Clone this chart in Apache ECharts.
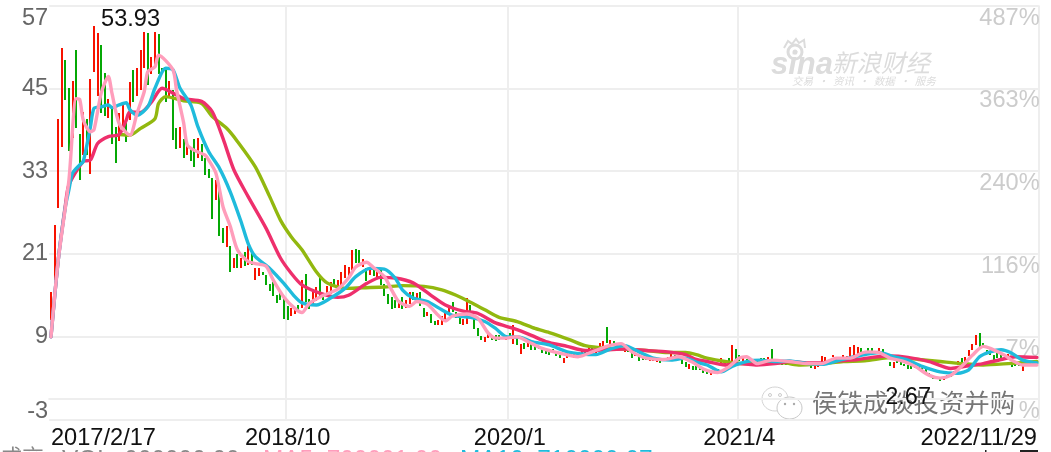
<!DOCTYPE html>
<html><head><meta charset="utf-8">
<style>html,body{margin:0;padding:0;background:#fff;overflow:hidden}#c{width:1051px;height:452px}</style>
<script src="https://cdn.jsdelivr.net/npm/echarts@6/dist/echarts.min.js"></script>
</head><body><div id="c"></div>
<script>
const opens=[11.4,17.2,27.6,36.5,49.1,45,37.7,50.5,38.4,35.3,40.5,32.6,47.3,43.9,51.3,47.2,40.8,42.2,39.4,37.3,
39.4,40,40.4,47.7,44,44.8,47.9,53,47.1,48.1,52.9,48,47.7,43.5,44.8,39.2,36.3,37.6,35.3,36.5,
37.7,34.9,36.9,34.9,33.3,32,28.8,30.3,24.7,22,22.1,18.9,21,18.9,21.3,19.4,21.3,17.1,17.8,18.4,
17.9,16.7,17,15,15.8,14.4,13.4,12,12.3,13.6,13.1,18.1,14.4,13.6,14.1,17.6,15,15.3,15.3,17.3,
16,16.2,17.5,17.8,18.7,21.7,21.5,19.1,18.9,18,18.9,17.5,18.7,16.7,15.2,14.8,14.3,13.1,14.8,13.1,
13.8,15.5,13.8,15.5,13.1,12,12.3,11.3,10.7,10.7,11.4,12.1,14.1,12.6,11.8,10.7,10.9,13.6,11.7,10.2,
9.1,8.3,8.8,8.9,9.2,9.2,9,8.4,9.5,8,8.8,6.5,8.1,7.5,8,8,7.6,7.5,7.1,7,
7.2,6.7,6.4,5.2,5.9,6.8,5.9,6.1,6.3,6.5,6.7,7.3,6.6,7.3,7.5,10.4,7.7,8.4,7.7,8,
6.8,7.3,6.8,6.1,6.4,5.9,5.9,5.5,5.4,5.2,5.5,5.6,5.6,5.9,6.4,5.6,5.6,5.4,4.4,4.7,
4.7,4.5,4.2,4,3.5,3.7,4.3,5.1,5,5.9,4.7,7.2,6.3,5.4,5.7,5.5,5.1,5.2,5.9,5.9,
5.6,7.2,5.4,5.7,5.2,5.4,5.1,5.3,5.1,5.1,5.2,5,4.9,4.3,4.7,5.4,5.4,5.2,6,5.6,
5.9,5.9,5.8,5.9,6.2,6.5,7.3,6.3,7.3,7.3,6.5,6.8,7.2,5.9,5.4,4.6,5.6,5.4,5.1,4.9,
4.7,4.7,4.6,4.4,4.3,3.7,3.2,2.9,2.8,2.7,3,3.6,3.6,4.9,5.9,5.3,6.2,7.1,7.8,9.6,
8.1,7.1,7,6.4,6.6,6.4,5.6,6.1,5,5.2,5,4.1,5.4,5.1,5.3,5];
const closes=[15.5,25.2,40.5,50.8,43.3,35.8,46,39.2,31.7,41.6,35.3,46.3,54,53,41.4,40.9,43.5,37,34.2,41.4,
43,37.3,45.9,43.1,48,50.6,53.1,45.5,49.5,53.2,47.1,47.2,43.1,46,37.5,36.1,39.4,34.9,36.6,34.4,
33.7,37.8,34.4,32.4,32,26,31.7,23.7,22.5,25,18.3,20.4,18.9,20.4,19.2,22.2,19.4,18.9,18.9,17.9,
16.5,15.7,15,13.9,14.3,11.5,11.4,13.1,13.3,12.9,17.2,14.1,13,15.5,16.2,14.8,14.3,16.4,17,16.2,
17.2,18.4,19.4,19.1,21.6,19.6,19.6,20.2,17,19.1,17.7,18.9,16.5,14.9,13.7,13.1,13.1,14.3,13.1,14.3,
15.5,14.4,15.3,13.4,11.8,12.6,11,10.7,11.4,12,12.4,13.4,12.6,11.7,10.8,11.5,14.6,11.7,10.1,9.1,
8.5,9,9.5,8.4,8.4,8.5,8.7,8.9,8.9,10.7,7.8,7.9,7.3,8.1,7.2,7.2,7.2,6.6,6.5,6.4,
6.6,6.2,6,5.9,6.6,6.3,6.6,6.8,7,7.1,7.5,6.8,7.2,8.1,8.4,8.1,8.5,7.8,8.1,7.6,
7.6,6.7,6,6.6,5.6,5.6,5.6,5.9,5.7,5.7,5.2,5.9,6.1,6.5,5.9,6.1,5,4.7,5.1,4.1,
4.1,4.2,3.8,3.5,3.8,4,4,5.9,5.5,5.4,7.8,5.5,5.4,5.9,5.4,5.2,5.4,5.5,5.6,5.6,
6,5.7,5.7,5.4,4.9,5,5.4,5,4.8,4.8,5,5.3,4.4,4.8,5.1,6.2,6.1,5.6,6.3,6,
6.1,6.4,6.2,7.5,7.8,7.5,6.6,6.8,6.8,6.8,6.9,7.3,6.3,6.5,4.8,5.4,5.2,4.9,4.9,4.3,
4.2,4.4,4.3,4.2,3.7,3.2,3,3.2,2.67,3.1,3.4,3.2,4.1,5.5,5.1,6,7.1,8,9.2,7.6,
7.6,6.6,6.4,5.7,5.9,6,6.2,6.5,4.6,4.7,4.7,4.9,5.1,5.4,5.1,5.3];
const tickIndex=[0,66,128,192,275];
const tickLabels=['2017/2/17','2018/10','2020/1','2021/4','2022/11/29'];
const leftTicks=[57,45,33,21,9,-3];
const rightTicks=['487%','363%','240%','116%','7%','%'];
const maxLabel=[12,54,'53.93'];
const minLabel=[248,2.67,'2.67'];
const ma5=[[0,9],[2,20],[5,31.7],[7,43.5],[8,43.4],[9,40.4],[11,38.7],[12,39],[14,44.3],[16,46.7],[17,44.3],[19,39.9],[22,38.2],[24,41.4],[26,44.5],[27,47.4],[29,48.1],[30,49.8],[34,47.7],[35,44.8],[37,40],[38,36.8],[40,36],[43,35.3],[44,34.6],[46,32.7],[48,27.8],[50,25],[52,21.6],[55,19.9],[57,19.6],[60,19.2],[62,17.2],[65,14.7],[68,13.1],[70,12.5],[72,13.8],[76,15],[80,15.9],[83,17.5],[85,19.1],[88,19.8],[90,19],[93,17.7],[95,15.8],[97,14.1],[100,13.4],[102,14.1],[105,13.7],[108,12.1],[110,11.3],[112,12],[116,12.3],[119,11.7],[122,9.5],[124,8.8],[127,8.8],[130,9],[133,8.3],[137,7.3],[142,6.6],[147,6.1],[151,6.8],[155,7.6],[159,8],[162,6.8],[166,5.9],[171,5.7],[175,6.1],[179,5.3],[182,4.3],[186,3.8],[189,4.6],[192,5.9],[194,6.1],[197,5.1],[201,5.6],[206,5.4],[211,5.1],[215,5.1],[219,5.9],[223,5.9],[226,6.6],[228,6.8],[231,6.7],[234,5.9],[238,5.4],[241,4.7],[245,3.4],[248,3],[251,3.4],[254,4.7],[257,6.3],[260,7.6],[262,7.3],[266,6.3],[268,5.6],[271,4.9],[275,4.9]];
const ma10=[[0,9],[2,20],[4,27.8],[5,30.3],[6,32.7],[8,33.9],[9,34.4],[11,39.4],[12,42.1],[14,42.3],[16,42.6],[17,42.2],[19,42.6],[21,42.9],[22,41.9],[24,41.1],[27,42.3],[29,45],[32,47.9],[34,47.7],[36,45],[39,42.6],[41,39.4],[44,35.8],[47,33.4],[50,30],[53,25.7],[55,22.5],[57,20.6],[61,18.9],[65,16.7],[68,14.8],[70,13.9],[74,13.6],[78,14.6],[82,16],[85,17.7],[89,18.9],[93,18.8],[96,17.5],[98,15.8],[101,14.6],[105,14.1],[109,12.9],[112,12.1],[117,11.8],[121,11.2],[124,10.2],[127,9],[131,8.9],[134,8.3],[139,7.8],[144,6.8],[148,6.5],[152,6.4],[156,7.2],[160,7.7],[164,6.8],[168,5.9],[173,5.6],[177,5.9],[180,5.3],[183,4.9],[187,3.9],[190,4.7],[194,5.4],[198,5.6],[202,5.4],[206,5.5],[211,5.1],[215,5],[220,5.6],[225,6.2],[231,6.7],[235,6.1],[239,5.6],[243,4.7],[248,3.9],[253,3.7],[256,4.2],[259,6.1],[262,6.8],[265,7.1],[268,6.6],[271,5.6],[275,5.2]];
const ma20=[[0,9],[2,20],[4,28],[5,31],[9,34.4],[11,34.6],[13,37],[16,38],[19,38.3],[21,40.4],[22,41.6],[25,41.5],[28,43],[31,45],[34,44.3],[37,43.5],[42,43.1],[45,41.6],[48,37.7],[51,33.2],[55,29.3],[60,24.7],[64,20.4],[67,18.2],[70,16.5],[75,15.3],[80,14.7],[83,15],[88,16.7],[92,17.6],[96,17.5],[101,16.8],[106,15],[110,13.6],[115,12.7],[119,12.4],[124,11],[129,10.2],[134,9.2],[138,8.3],[144,7.6],[149,7],[155,7.1],[160,7.2],[166,7],[172,6.8],[177,6.4],[180,5.7],[183,5.4],[188,4.9],[192,5.1],[197,4.9],[202,5.1],[206,5.4],[211,5.2],[215,5.2],[220,5.5],[225,5.7],[229,6],[234,6.2],[239,6],[245,5.4],[251,4.4],[255,4.7],[260,5.1],[265,5.7],[269,6.1],[275,6]];
const ma30=[[19,38.3],[22,38.2],[25,39.2],[29,40.6],[30,42.8],[32,43.8],[37,43.2],[42,42.8],[45,40.9],[49,39.2],[52,37.3],[57,33.6],[61,29.3],[64,25.9],[67,23.5],[70,21.6],[74,18.4],[77,16.8],[82,16],[87,16.1],[93,16.2],[98,16.4],[104,16.3],[109,15.8],[113,15],[117,14],[121,12.9],[125,11.8],[130,11.2],[135,10.2],[139,9.6],[145,8.5],[149,7.7],[155,7.3],[160,7.2],[166,7],[172,6.7],[177,6.7],[180,6.4],[183,5.9],[188,5.4],[193,5.1],[199,5.2],[204,5.2],[209,4.9],[215,5.1],[221,5.4],[227,5.5],[235,6],[242,5.7],[248,5.4],[254,5.1],[260,4.9],[267,5.1],[275,5.4]];

const categories=opens.map((_,i)=>{const k=tickIndex.indexOf(i);return k>=0?tickLabels[k]:String(i);});
const barRows=opens.map((o,i)=>[i,o,closes[i]]);
const UP='#f71200',DOWN='#05a805';
const FONT='"Liberation Sans",Arial,sans-serif';
const FS=23.6;
const chart=echarts.init(document.getElementById('c'),null,{renderer:'canvas'});
function ln(name,data,color,z,extra){return Object.assign({name,type:'line',data,showSymbol:false,symbol:'none',smooth:0.25,z,silent:true,lineStyle:{color,width:3.4,cap:'round',join:'round'}},extra||{});}
chart.setOption({
 animation:false,backgroundColor:'#fff',
 grid:{left:49.2,right:12.3,top:5.5,height:414},
 xAxis:{type:'category',data:categories,boundaryGap:true,
  axisLine:{show:true,lineStyle:{color:'#eee',width:2}},axisTick:{show:false},
  splitLine:{show:true,interval:(i)=>tickIndex.slice(1,4).includes(i),lineStyle:{color:'#eee',width:2}},
  axisLabel:{interval:(i)=>tickIndex.includes(i),color:'#111',fontFamily:FONT,fontSize:FS,margin:7,alignMinLabel:'left',alignMaxLabel:'right',hideOverlap:false,showMinLabel:true,showMaxLabel:true}},
 yAxis:[
  {type:'value',min:-3,max:57,interval:12,position:'left',axisLine:{show:false},axisTick:{show:false},
   splitLine:{show:true,lineStyle:{color:'#eee',width:2}},
   axisLabel:{margin:1,color:'#666',fontFamily:FONT,fontSize:FS,
    formatter:(v)=>v===57?'{t|'+v+'}':(v===-3?'{b|'+v+'}':String(v)),
    rich:{t:{padding:[25,0,0,0],fontSize:FS,fontFamily:FONT,color:'#666'},b:{padding:[0,0,16,0],fontSize:FS,fontFamily:FONT,color:'#666'}}}},
  {type:'value',min:-3,max:57,interval:12,position:'right',axisLine:{show:false},axisTick:{show:false},splitLine:{show:false},
   axisLabel:{inside:true,margin:-1,color:'#ccc',fontFamily:FONT,fontSize:FS,
    formatter:(v)=>{const t=rightTicks[leftTicks.indexOf(v)];return v===-3?'{b|'+t+'}':'{t|'+t+'}';},
    rich:{t:{padding:[25,0,0,0],fontSize:FS,fontFamily:FONT,color:'#ccc'},b:{padding:[0,0,16,0],fontSize:FS,fontFamily:FONT,color:'#ccc'}}}}
 ],
 series:[
  {type:'custom',data:barRows,encode:{x:0,y:[1,2]},z:2,silent:true,clip:false,
   renderItem:(params,api)=>{
     const o=api.value(1),c=api.value(2);
     const a=api.coord([api.value(0),o]),b=api.coord([api.value(0),c]);
     const top=Math.min(a[1],b[1]);
     return {type:'rect',shape:{x:Math.round(a[0]-1),y:Math.round(top),width:2,height:Math.max(2,Math.round(Math.abs(a[1]-b[1])))},style:{fill:c>=o?UP:DOWN}};
   }},
  ln('MA30',ma30,'#92b80f',3),
  ln('MA20',ma20,'#ee2f6c',4),
  ln('MA10',ma10,'#1fbbdc',5),
  ln('MA5',ma5,'#ff9dbb',6,{
   markPoint:{symbol:'circle',symbolSize:0,silent:true,animation:false,data:[
     {coord:[maxLabel[0],maxLabel[1]],label:{show:true,formatter:maxLabel[2],position:'right',offset:[2,-7],color:'#111',fontFamily:FONT,fontSize:FS}},
     {coord:[minLabel[0],minLabel[1]],label:{show:true,formatter:minLabel[2],position:'left',offset:[-4,17],color:'#111',fontFamily:FONT,fontSize:FS}}]}})
 ],
 graphic:[
  {type:'group',silent:true,z:100,children:[
   {type:'text',x:771,y:50,style:{text:'sina',font:'italic bold 31px "Liberation Sans"',fill:'#dcdcdc'}},
   {type:'circle',shape:{cx:795,cy:52,r:7},style:{fill:'none',stroke:'#dcdcdc',lineWidth:3}},
   {type:'circle',shape:{cx:795,cy:52,r:2.5},style:{fill:'#dcdcdc'}},
   {type:'polyline',shape:{points:[[784,48],[788,41],[792,44],[796,39],[799,43],[804,40],[805,48]]},style:{fill:'none',stroke:'#dcdcdc',lineWidth:2}},
   {type:'text',x:832,y:50,style:{text:'新浪财经',font:'italic 24.5px "Noto Sans CJK SC"',fill:'#dcdcdc'}},
   {type:'text',x:792,y:76,style:{text:'交易  ·  资讯  ·  数据  ·  服务',font:'italic 10.5px "Noto Sans CJK SC"',fill:'#dcdcdc'}},
   {type:'ellipse',shape:{cx:775,cy:399,rx:13,ry:12},style:{fill:'#fff',stroke:'#d4d4d4',lineWidth:1}},
   {type:'ellipse',shape:{cx:789.5,cy:408,rx:12.5,ry:11},style:{fill:'#fff',stroke:'#c8c8c8',lineWidth:1}},
   {type:'circle',shape:{cx:770,cy:395,r:1.5},style:{fill:'#fff',stroke:'#ccc'}},
   {type:'circle',shape:{cx:780,cy:395,r:1.5},style:{fill:'#fff',stroke:'#ccc'}},
   {type:'circle',shape:{cx:785,cy:404,r:1.2},style:{fill:'#aaa'}},
   {type:'circle',shape:{cx:794,cy:404,r:1.2},style:{fill:'#aaa'}},
   {type:'text',x:812,y:390,style:{text:'侯铁成谈投资并购',font:'25.4px "Noto Sans CJK SC"',fill:'#777',stroke:'#fff',lineWidth:1.2}},
   {type:'text',x:0,y:446,style:{text:'成交',font:'22px "Noto Sans CJK SC"',fill:'#888'}},
   {type:'text',x:62,y:448,style:{text:'VOL: 000000.00',font:'24.4px "Liberation Sans"',fill:'#888'}},
   {type:'text',x:263,y:448,style:{text:'MA5: 700001.00',font:'24.4px "Liberation Sans"',fill:'#ff9dbb'}},
   {type:'text',x:460,y:448,style:{text:'MA10: 710000.07',font:'24.4px "Liberation Sans"',fill:'#1fbbdc'}},
   {type:'rect',shape:{x:1020,y:450,width:18,height:2},style:{fill:'#222'}},
   {type:'rect',shape:{x:985,y:450,width:1.5,height:2},style:{fill:'#222'}}
  ]}
 ]
});
</script></body></html>
